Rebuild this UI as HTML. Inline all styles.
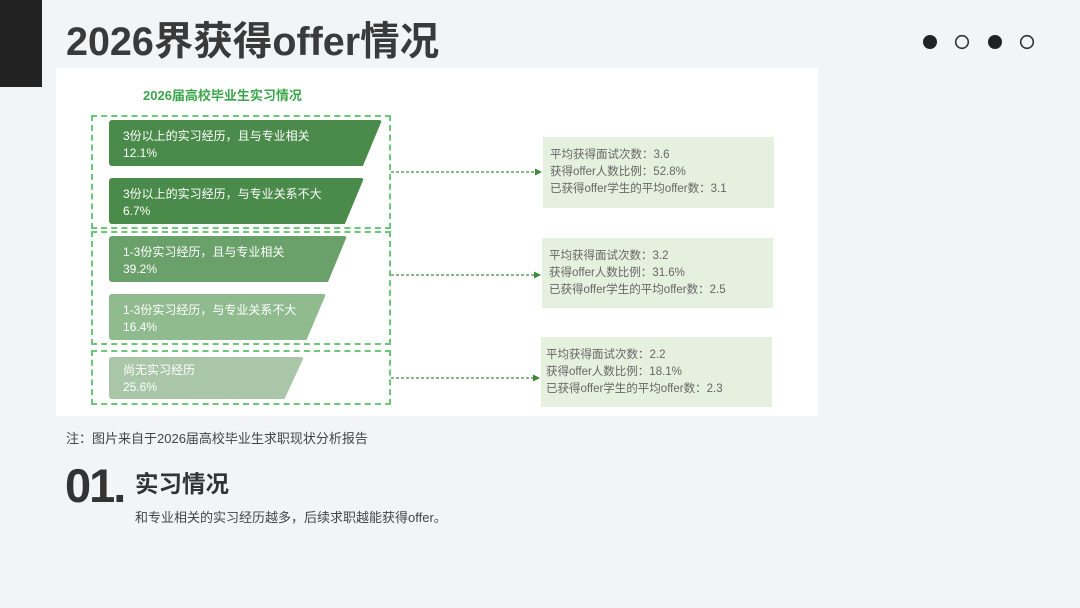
<!DOCTYPE html>
<html><head><meta charset="utf-8"><style>
body{margin:0;width:1080px;height:608px;background:#f3f4f6;position:relative;overflow:hidden;font-family:"Liberation Sans","Noto Sans CJK SC",sans-serif}
.a{position:absolute}
.bar{position:absolute;color:#fff;font-size:12px;line-height:17px;padding:8px 0 0 14px;box-sizing:border-box;border-radius:3px}
.info{position:absolute;background:#e6f0de;color:#666;font-size:11.5px;line-height:17px;padding:10px 0 0 7px;box-sizing:border-box}
.box{position:absolute;border:2px dashed #6cc77a;box-sizing:border-box}
</style></head><body>
<div class="a" style="left:0;top:0;width:42px;height:87px;background:#222"></div>
<div class="a" style="left:66px;top:19px;font-size:39.5px;font-weight:bold;color:#3a3a3a;line-height:46px">2026界获得offer情况</div>
<svg class="a" style="left:0;top:0" width="1080" height="80">
<circle cx="930" cy="42" r="7" fill="#222"/><circle cx="962" cy="42" r="6.3" fill="none" stroke="#333" stroke-width="1.6"/>
<circle cx="995" cy="42" r="7" fill="#222"/><circle cx="1027" cy="42" r="6.3" fill="none" stroke="#333" stroke-width="1.6"/>
</svg>
<div class="a" style="left:56px;top:68px;width:762px;height:348px;background:#fff"></div>
<div class="a" style="left:143px;top:85px;font-size:13px;font-weight:bold;color:#3aa64a">2026届高校毕业生实习情况</div>
<div class="bar" style="left:109px;top:120px;width:273px;height:46px;background:#4a8a4a;clip-path:polygon(0 0,100% 0,93% 100%,0 100%)">3份以上的实习经历，且与专业相关<br>12.1%</div>
<div class="bar" style="left:109px;top:178px;width:255px;height:46px;background:#4a8a4a;clip-path:polygon(0 0,100% 0,92.5% 100%,0 100%)">3份以上的实习经历，与专业关系不大<br>6.7%</div>
<div class="bar" style="left:109px;top:236px;width:238px;height:46px;background:#6aa06a;clip-path:polygon(0 0,100% 0,92% 100%,0 100%)">1-3份实习经历，且与专业相关<br>39.2%</div>
<div class="bar" style="left:109px;top:294px;width:217px;height:46px;background:#90bb8f;clip-path:polygon(0 0,100% 0,91% 100%,0 100%)">1-3份实习经历，与专业关系不大<br>16.4%</div>
<div class="bar" style="left:109px;top:357px;width:195px;height:42px;background:#a9c6a9;padding-top:5px;clip-path:polygon(0 0,100% 0,90% 100%,0 100%)">尚无实习经历<br>25.6%</div>
<div class="box" style="left:91px;top:115px;width:300px;height:114px"></div>
<div class="box" style="left:91px;top:231px;width:300px;height:114px"></div>
<div class="box" style="left:91px;top:350px;width:300px;height:55px"></div>
<svg class="a" style="left:0;top:0" width="1080" height="608">
<g stroke="#4a8a4a" stroke-width="1.3" stroke-dasharray="3,2" fill="none">
<line x1="391" y1="172" x2="537" y2="172"/><line x1="391" y1="275" x2="536" y2="275"/><line x1="391" y1="378" x2="535" y2="378"/></g>
<g fill="#3a8a3a"><polygon points="542,172 535,168.5 535,175.5"/><polygon points="541,275 534,271.5 534,278.5"/><polygon points="540,378 533,374.5 533,381.5"/></g>
</svg>
<div class="info" style="left:543px;top:137px;width:231px;height:71px">平均获得面试次数：3.6<br>获得offer人数比例：52.8%<br>已获得offer学生的平均offer数：3.1</div>
<div class="info" style="left:542px;top:238px;width:231px;height:70px">平均获得面试次数：3.2<br>获得offer人数比例：31.6%<br>已获得offer学生的平均offer数：2.5</div>
<div class="info" style="left:541px;top:337px;width:231px;height:70px;padding-left:5px">平均获得面试次数：2.2<br>获得offer人数比例：18.1%<br>已获得offer学生的平均offer数：2.3</div>
<div class="a" style="left:66px;top:428px;font-size:13px;color:#444">注：图片来自于2026届高校毕业生求职现状分析报告</div>
<div class="a" style="left:65px;top:461px;font-size:47px;font-weight:bold;color:#333;letter-spacing:-2px;line-height:50px">01.</div>
<div class="a" style="left:135px;top:465px;font-size:23.5px;font-weight:bold;color:#333">实习情况</div>
<div class="a" style="left:135px;top:507px;font-size:13px;color:#444">和专业相关的实习经历越多，后续求职越能获得offer。</div>
</body></html>
